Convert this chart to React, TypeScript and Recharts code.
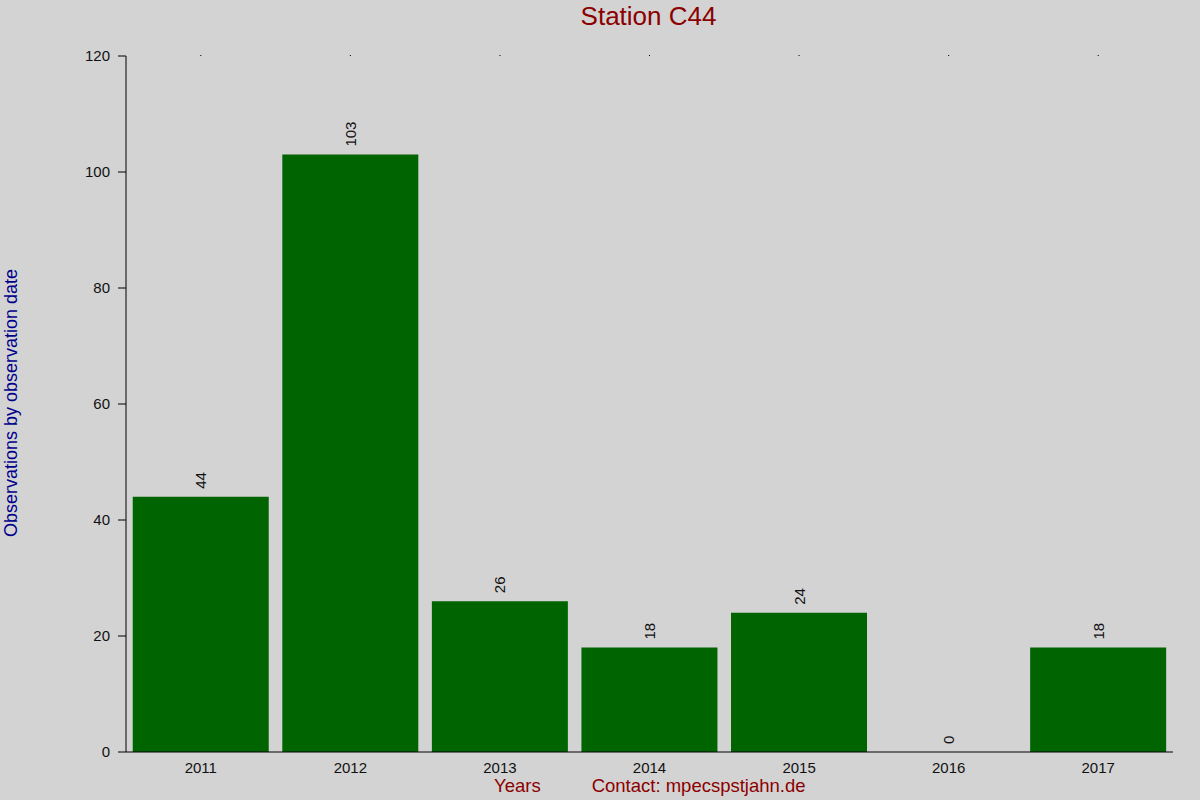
import React from "react";
import { ComposedChart, Bar, Line, XAxis, YAxis, LabelList } from "recharts";

const years = ["2011", "2012", "2013", "2014", "2015", "2016", "2017"];
const observations = [44, 103, 26, 18, 24, 0, 18];
const yTicks = [0, 20, 40, 60, 80, 100, 120];

const data = years.map((year, i) => ({ year, count: observations[i] }));

const font = "'Liberation Sans', Arial, sans-serif";

// value labels drawn from the line points (so a zero bar still gets its label)
const RotatedLabel = (props: any) => {
  const { x, y, value } = props;
  const cx = x;
  const cy = y - 8;
  return (
    <text
      x={cx}
      y={cy}
      transform={`rotate(-90 ${cx} ${cy})`}
      textAnchor="start"
      dominantBaseline="central"
      fontSize={15}
      fontFamily={font}
      fill="#111"
    >
      {value}
    </text>
  );
};

export default function App() {
  return (
    <div
      style={{
        position: "absolute",
        left: 0,
        top: 0,
        width: 1200,
        height: 800,
        background: "#d3d3d3",
        fontFamily: font,
      }}
    >
      <ComposedChart
        width={1200}
        height={800}
        data={data}
        margin={{ top: 55, right: 27, bottom: 0, left: 0 }}
        barCategoryGap="4.5%"
      >
        <XAxis
          dataKey="year"
          xAxisId="bottom"
          height={48}
          stroke="#000"
          tickLine={false}
          tick={{ fill: "#111", fontSize: 15, fontFamily: font }}
          tickMargin={4}
        />
        <XAxis
          dataKey="year"
          xAxisId="top"
          orientation="top"
          height={1}
          axisLine={false}
          tickSize={1}
          tickLine={{ stroke: "#000" }}
          tick={() => <g />}
        />
        <YAxis
          width={126}
          domain={[0, 120]}
          ticks={yTicks}
          interval={0}
          stroke="#000"
          tickSize={8}
          tickMargin={8}
          tick={{ fill: "#111", fontSize: 15, fontFamily: font }}
        />
        <Bar
          dataKey="count"
          xAxisId="bottom"
          fill="#006400"
          isAnimationActive={false}
        />
        <Line
          dataKey="count"
          xAxisId="bottom"
          stroke="none"
          dot={false}
          activeDot={false}
          isAnimationActive={false}
        >
          <LabelList dataKey="count" content={RotatedLabel} />
        </Line>
      </ComposedChart>
      <div
        style={{
          position: "absolute",
          top: 1,
          left: 0,
          width: 1297,
          textAlign: "center",
          fontSize: 26,
          color: "#8b0000",
        }}
      >
        Station C44
      </div>
      <div
        style={{
          position: "absolute",
          left: 11,
          top: 403,
          transform: "translate(-50%, -50%) rotate(-90deg)",
          whiteSpace: "nowrap",
          fontSize: 18,
          color: "#00008b",
        }}
      >
        Observations by observation date
      </div>
      <div
        style={{
          position: "absolute",
          left: 494,
          top: 775,
          fontSize: 18.5,
          color: "#8b0000",
          whiteSpace: "nowrap",
        }}
      >
        Years
        <span style={{ marginLeft: 51 }}>Contact: mpecspstjahn.de</span>
      </div>
    </div>
  );
}
